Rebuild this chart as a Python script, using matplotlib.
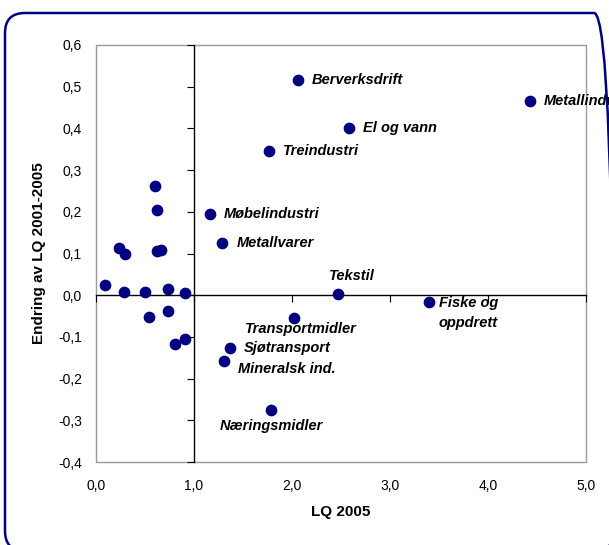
import matplotlib
matplotlib.use("Agg")
import matplotlib.pyplot as plt
from matplotlib.patches import FancyBboxPatch, Rectangle

plt.rcParams['font.family'] = ['Liberation Sans', 'DejaVu Sans']

# LQ 2005 (x) and change in LQ 2001-2005 (y)
names = ['Berverksdrift', 'Metallindustri', 'El og vann', 'Treindustri',
         'Møbelindustri', 'Metallvarer', 'Tekstil', 'Fiske og\noppdrett',
         'Transportmidler', 'Sjøtransport', 'Mineralsk ind.', 'Næringsmidler']
lq_named = [2.06, 4.43, 2.58, 1.77, 1.16, 1.29, 2.47, 3.40, 2.02, 1.37, 1.31, 1.79]
chg_named = [0.515, 0.465, 0.40, 0.345, 0.195, 0.126, 0.002, -0.016, -0.054, -0.126, -0.157, -0.276]

# unlabelled industries
lq_other = [0.60, 0.62, 0.235, 0.30, 0.62, 0.66, 0.09, 0.29, 0.50, 0.73, 0.91, 0.54, 0.73, 0.91, 0.81]
chg_other = [0.262, 0.204, 0.114, 0.098, 0.106, 0.108, 0.024, 0.008, 0.008, 0.014, 0.006, -0.052, -0.038, -0.106, -0.116]

x_ticks = [0, 1, 2, 3, 4, 5]
y_ticks = [-0.4, -0.3, -0.2, -0.1, 0.0, 0.1, 0.2, 0.3, 0.4, 0.5, 0.6]

# label placement: (offset x pt, offset y pt, ha, va)
label_pos = {
    'Tekstil': (10, 8, 'center', 'bottom'),
    'Fiske og\noppdrett': (7, 4, 'left', 'top'),
    'Transportmidler': (5, -3, 'center', 'top'),
    'Mineralsk ind.': (10, -1, 'left', 'top'),
    'Næringsmidler': (0, -6, 'center', 'top'),
}

fig = plt.figure(figsize=(6.09, 5.45), dpi=100)
ax = fig.add_axes([96 / 609, 83 / 545, 490 / 609, 417 / 545])

ax.scatter(lq_other + lq_named, chg_other + chg_named, s=55, color='#000080',
           zorder=3, clip_on=False)

for n, x, y in zip(names, lq_named, chg_named):
    dx, dy, ha, va = label_pos.get(n, (10, 0, 'left', 'center'))
    ax.annotate(n, (x, y), xytext=(dx, dy), textcoords='offset points',
                ha=ha, va=va, fontsize=10.5, fontweight='bold', style='italic',
                annotation_clip=False, linespacing=1.55)

ax.set_xlim(0, 5)
ax.set_ylim(-0.4, 0.6)
ax.set_xticks(x_ticks)
ax.set_yticks(y_ticks)
ax.set_xticklabels([f"{v:.1f}".replace('.', ',') for v in x_ticks])
ax.set_yticklabels([f"{v:.1f}".replace('.', ',') for v in y_ticks])

# axis lines through x=1 and y=0 with tick marks, labels stay at the edges
ax.spines['right'].set_position(('data', 1))
ax.spines['top'].set_position(('data', 0))
ax.spines['left'].set_visible(False)
ax.spines['bottom'].set_visible(False)
for s in ['right', 'top']:
    ax.spines[s].set_color('black')
    ax.spines[s].set_linewidth(1)
ax.tick_params(axis='y', left=False, labelleft=True, right=True, labelright=False,
               direction='in', length=5, labelsize=10, pad=10)
ax.tick_params(axis='x', bottom=False, labelbottom=True, top=True, labeltop=False,
               direction='in', length=5, labelsize=10, pad=12)

ax.add_patch(Rectangle((0, 0), 1, 1, transform=ax.transAxes, fill=False,
                       edgecolor='#9a9a9a', linewidth=1, zorder=0, clip_on=False))

ax.set_xlabel('LQ 2005', fontsize=11, fontweight='bold', labelpad=9)
ax.set_ylabel('Endring av LQ 2001-2005', fontsize=11, fontweight='bold', labelpad=9)

border = FancyBboxPatch((0.05, -0.06), 6.09, 5.38, boxstyle='round,pad=0,rounding_size=0.2',
                        transform=fig.dpi_scale_trans, fill=False,
                        edgecolor='#000080', linewidth=1.8)
fig.patches.append(border)

fig.savefig('out.png', dpi=100)
